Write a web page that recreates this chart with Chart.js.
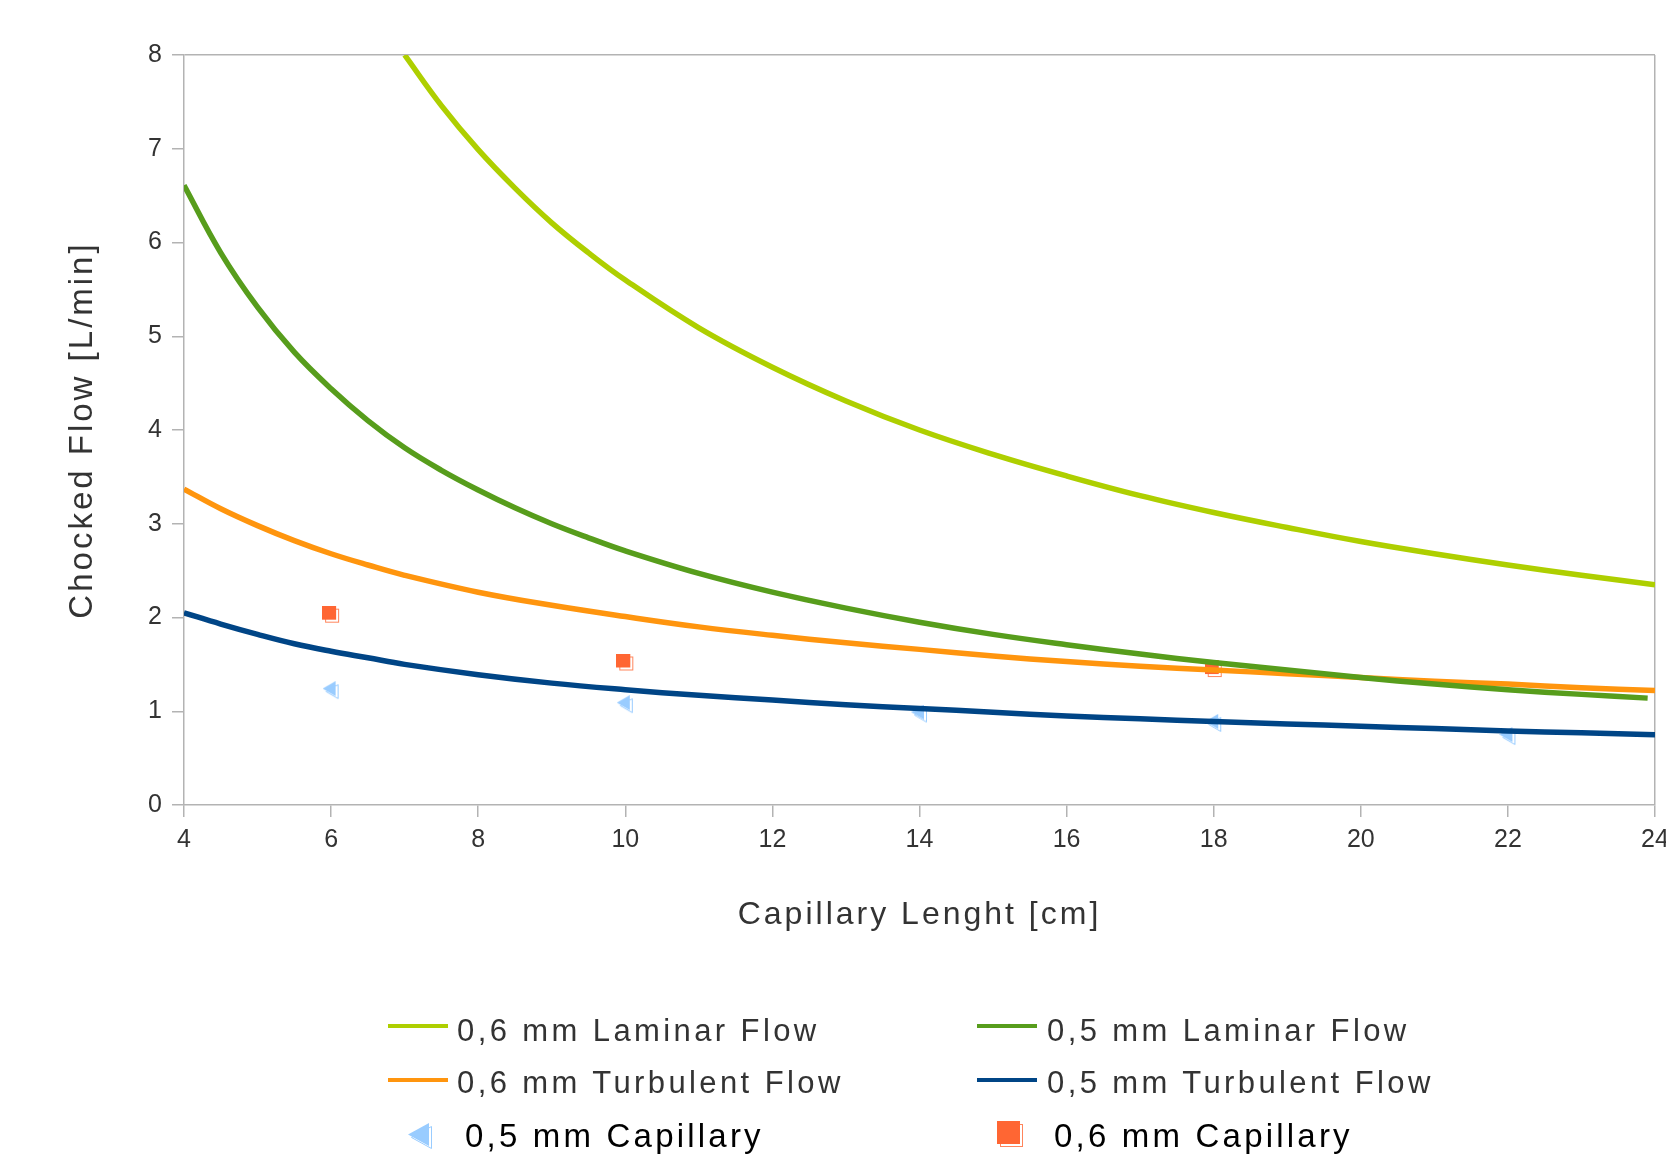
<!DOCTYPE html>
<html><head><meta charset="utf-8">
<script src="https://cdn.jsdelivr.net/npm/chart.js@4/dist/chart.umd.min.js"></script>
<style>
html,body{margin:0;padding:0;background:#fff;}
#wrap{position:relative;width:1666px;height:1160px;overflow:hidden;background:#fff;}
#c{position:absolute;left:0;top:0;}
.lg{position:absolute;font-family:'Liberation Sans',Arial,sans-serif;white-space:nowrap;line-height:1;}
.ls{position:absolute;height:4px;width:60px;}
</style></head><body>
<div id="wrap"><canvas id="c" width="1666" height="1160"></canvas><div id="legend"></div></div>
<script>
// ---- data ----
const seriesNames = ['0,6 mm Laminar Flow','0,5 mm Laminar Flow','0,6 mm Turbulent Flow','0,5 mm Turbulent Flow','0,5 mm Capillary','0,6 mm Capillary'];

const xLam06 = [7,7.5,8,8.5,9,9.5,10,11,12,13,14,15,16,17,18,19,20,21,22,23,24];
const yLam06 = [8.00,7.46,6.99,6.58,6.21,5.89,5.60,5.09,4.67,4.31,4.00,3.74,3.51,3.30,3.12,2.96,2.81,2.68,2.56,2.45,2.35];

const xLam05 = [4,4.5,5,5.5,6,6.5,7,7.5,8,8.5,9,9.5,10,11,12,13,14,15,16,17,18,19,20,21,22,23,23.9];
const yLam05 = [6.61,5.89,5.31,4.83,4.44,4.10,3.81,3.57,3.36,3.17,3.00,2.85,2.71,2.47,2.27,2.10,1.95,1.82,1.71,1.61,1.52,1.44,1.36,1.29,1.23,1.18,1.14];

const xTurb06 = [4,4.5,5,5.5,6,6.5,7,8,9,10,11,12,13,14,15,16,17,18,19,20,21,22,23,24];
const yTurb06 = [3.37,3.16,2.98,2.82,2.68,2.56,2.45,2.27,2.13,2.01,1.90,1.81,1.73,1.66,1.59,1.53,1.48,1.44,1.40,1.36,1.32,1.29,1.25,1.22];

const xTurb05 = [4,4.5,5,5.5,6,6.5,7,8,9,10,11,12,13,14,15,16,17,18,19,20,21,22,23,24];
const yTurb05 = [2.05,1.93,1.82,1.72,1.64,1.57,1.50,1.39,1.30,1.23,1.17,1.12,1.07,1.03,0.99,0.95,0.92,0.89,0.865,0.84,0.815,0.79,0.77,0.75];

const xCap05 = [6,10,14,18,22];
const yCap05 = [1.22,1.07,0.97,0.87,0.73];

const xCap06 = [6,10,18];
const yCap06 = [2.03,1.52,1.45];

const xTickMin = 4, xTickMax = 24, xTickStep = 2;
const yTickMin = 0, yTickMax = 8, yTickStep = 1;
const xTitle = 'Capillary Lenght [cm]';
const yTitle = 'Chocked Flow [L/min]';

// ---- styling ----
const colors = ['#aecf00','#579d1c','#ff950e','#004586','#99ccff','#ff6633'];
const axisColor = '#b3b3b3';
const FONT = "'Liberation Sans', Arial, sans-serif";

function pts(xs, ys){ return xs.map((x,i)=>({x:x, y:ys[i]})); }

function makeSquare(s, off, col){
  const c = document.createElement('canvas');
  c.width = s + off + 1; c.height = s + off + 1;
  const g = c.getContext('2d');
  g.strokeStyle = col; g.globalAlpha = 0.8; g.lineWidth = 1;
  g.strokeRect(off + 0.5, off + 0.5, s - 1, s - 1);
  g.globalAlpha = 1; g.fillStyle = col;
  g.fillRect(0, 0, s, s);
  return c;
}
function makeTriangle(w, h, off, col){
  const c = document.createElement('canvas');
  c.width = w + off + 1; c.height = h + off + 1;
  const g = c.getContext('2d');
  g.strokeStyle = col; g.lineWidth = 1;
  g.beginPath(); g.moveTo(off+0.5, off + h/2); g.lineTo(off + w - 0.5, off + 0.5); g.lineTo(off + w - 0.5, off + h - 0.5); g.closePath(); g.stroke();
  g.fillStyle = col;
  g.beginPath(); g.moveTo(0, h/2); g.lineTo(w, 0); g.lineTo(w, h); g.closePath(); g.fill();
  return c;
}

const squareImg = makeSquare(14, 3, colors[5]);
const triImg = makeTriangle(13, 15, 3, colors[4]);

Chart.defaults.font.family = FONT;
Chart.defaults.color = '#333333';

function lineDs(i, xs, ys, order){
  return {label: seriesNames[i], data: pts(xs, ys), borderColor: colors[i], backgroundColor: colors[i],
    borderWidth: 5.5, pointRadius: 0, pointHoverRadius: 0, tension: 0.4,
    fill: false, order: order};
}

const spacingPlugin = {
  id: 'spacing',
  beforeDraw(chart){ chart.ctx.letterSpacing = '3px'; },
  beforeDatasetsDraw(chart){ chart.ctx.letterSpacing = '0px'; },
  afterDraw(chart){ chart.ctx.letterSpacing = '0px'; }
};

const chart = new Chart(document.getElementById('c'), {
  type: 'line',
  data: {
    datasets: [
      lineDs(0, xLam06, yLam06, 1),
      lineDs(1, xLam05, yLam05, 2),
      lineDs(2, xTurb06, yTurb06, 4),
      lineDs(3, xTurb05, yTurb05, 3),
      {label: seriesNames[4], type: 'scatter', data: pts(xCap05, yCap05), pointStyle: triImg, pointRadius: 8,
        borderColor: colors[4], backgroundColor: colors[4], showLine: false, order: 10},
      {label: seriesNames[5], type: 'scatter', data: pts(xCap06, yCap06), pointStyle: squareImg, pointRadius: 9,
        borderColor: colors[5], backgroundColor: colors[5], showLine: false, order: 9}
    ]
  },
  options: {
    responsive: false,
    devicePixelRatio: 1,
    animation: false,
    events: [],
    layout: {padding: {left: 50, top: 55, right: 11, bottom: 220}},
    plugins: {legend: {display: false}, tooltip: {enabled: false}},
    scales: {
      x: {
        type: 'linear', min: xTickMin, max: xTickMax,
        ticks: {stepSize: xTickStep, font: {size: 25}, color: '#333333', padding: 8, maxRotation: 0, z: 1},
        grid: {color: (c) => (c.tick && c.tick.value === xTickMax) ? axisColor : 'rgba(0,0,0,0)',
               tickColor: axisColor, tickLength: 12, lineWidth: 1.5, drawTicks: true},
        border: {display: true, color: axisColor, width: 1.5},
        title: {display: true, text: xTitle, font: {size: 32}, color: '#333333', padding: {top: 0, bottom: 6}},
        afterFit(s){ s.height = 135; s.paddingLeft = 0; s.paddingRight = 0; }
      },
      y: {
        type: 'linear', min: yTickMin, max: yTickMax,
        ticks: {stepSize: yTickStep, font: {size: 25}, color: '#333333', padding: 10, z: 1},
        grid: {color: (c) => (c.tick && c.tick.value === yTickMax) ? axisColor : 'rgba(0,0,0,0)',
               tickColor: axisColor, tickLength: 12, lineWidth: 1.5, drawTicks: true},
        border: {display: true, color: axisColor, width: 1.5},
        title: {display: true, text: yTitle, font: {size: 33}, color: '#333333', padding: {top: 13, bottom: 0}},
        afterFit(s){ s.width = 134; }
      }
    }
  },
  plugins: [spacingPlugin]
});

// ---- HTML legend built from the chart's datasets ----
(function buildLegend(){
  const host = document.getElementById('legend');
  const ds = chart.data.datasets;
  const lay = [
    {kind:'line', lx:388, ly:1024, tx:457, ty:1014.8, fs:31, col:'#333', sp:'3.4px'},
    {kind:'line', lx:977, ly:1024, tx:1047, ty:1014.8, fs:31, col:'#333', sp:'3.4px'},
    {kind:'line', lx:388, ly:1078, tx:457, ty:1066.8, fs:31, col:'#333', sp:'3.4px'},
    {kind:'line', lx:977, ly:1078, tx:1047, ty:1066.8, fs:31, col:'#333', sp:'3.4px'},
    {kind:'tri', lx:408, ly:1123, tx:465, ty:1119.1, fs:33, col:'#000', sp:'3.2px'},
    {kind:'sq', lx:997, ly:1121, tx:1054, ty:1119.1, fs:33, col:'#000', sp:'3.2px'}
  ];
  ds.forEach((d, i) => {
    const L = lay[i];
    if (L.kind === 'line') {
      const s = document.createElement('div');
      s.className = 'ls';
      s.style.left = L.lx + 'px'; s.style.top = L.ly + 'px'; s.style.background = d.borderColor;
      host.appendChild(s);
    } else {
      const m = L.kind === 'tri' ? makeTriangle(21, 23, 3, d.borderColor) : makeSquare(23, 3, d.borderColor);
      m.style.position = 'absolute'; m.style.left = L.lx + 'px'; m.style.top = L.ly + 'px';
      host.appendChild(m);
    }
    const t = document.createElement('div');
    t.className = 'lg';
    t.textContent = d.label;
    t.style.left = L.tx + 'px'; t.style.top = L.ty + 'px';
    t.style.fontSize = L.fs + 'px'; t.style.color = L.col; t.style.letterSpacing = L.sp;
    host.appendChild(t);
  });
})();
</script>
</body></html>
